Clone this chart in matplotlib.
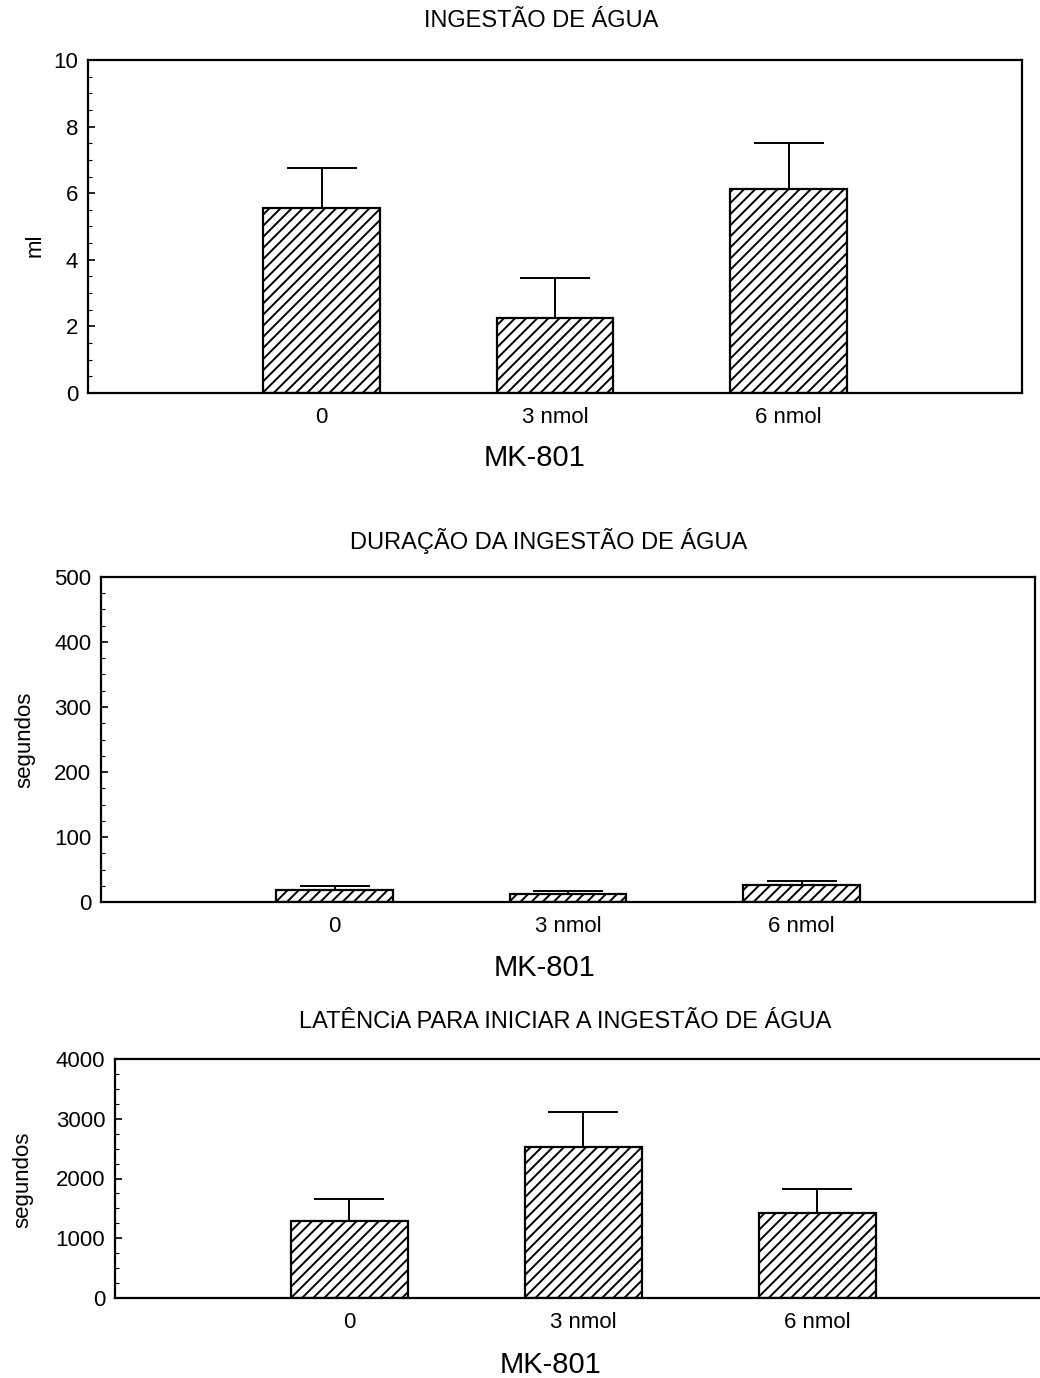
import numpy as np
from matplotlib import pyplot as plt
from matplotlib.ticker import AutoMinorLocator

plt.rcParams['font.family'] = ['Liberation Sans', 'DejaVu Sans']
plt.rcParams['hatch.linewidth'] = 1.4

doses = ['0', '3 nmol', '6 nmol']

# ingestao de agua (ml)
agua_media = [5.55, 2.25, 6.12]
agua_erro = [1.2, 1.2, 1.4]

# duracao da ingestao (segundos)
duracao_media = [19, 12, 26]
duracao_erro = [5, 5, 6]

# latencia (segundos)
latencia_media = [1290, 2530, 1430]
latencia_erro = [360, 580, 395]

W, H = 1040, 1378


def px_axes(fig, left, right, top, bottom):
    return fig.add_axes([left / W, 1 - bottom / H, (right - left) / W, (bottom - top) / H])


def barPanel(ax, means, errs, ymax, step):
    x = np.arange(1, len(means) + 1)
    ax.bar(x, means, width=0.5, color='white', edgecolor='black',
           linewidth=1.6, hatch='///', zorder=2)
    ax.errorbar(x, means, yerr=[np.zeros(len(errs)), errs], fmt='none',
                ecolor='black', elinewidth=1.4, capsize=25, capthick=1.4, zorder=3)
    ax.set_xlim(0, 4)
    ax.set_ylim(0, ymax)
    ax.set_yticks(np.arange(0, ymax + step / 2, step))
    ax.yaxis.set_minor_locator(AutoMinorLocator(4))
    ax.set_xticks(x)
    ax.set_xticklabels(doses)
    ax.tick_params(axis='x', length=0, pad=10, labelsize=16)
    ax.tick_params(axis='y', which='major', direction='in', length=5, width=1.2,
                   pad=7, labelsize=16)
    ax.tick_params(axis='y', which='minor', direction='in', length=3, width=0.8)
    for s in ax.spines.values():
        s.set_linewidth(1.6)


fig = plt.figure(figsize=(W / 100, H / 100), dpi=100)

ax1 = px_axes(fig, 88, 1022, 60, 393)
barPanel(ax1, agua_media, agua_erro, 10, 2)
fig.text(541 / W, 1 - 21 / H, 'INGESTÃO DE ÁGUA', ha='center', va='center', fontsize=17)
fig.text(535 / W, 1 - 458 / H, 'MK-801', ha='center', va='center', fontsize=21)
fig.text(35 / W, 1 - 245 / H, 'ml', ha='center', va='center', rotation=90, fontsize=16)

ax2 = px_axes(fig, 101, 1035, 577, 902)
barPanel(ax2, duracao_media, duracao_erro, 500, 100)
fig.text(549 / W, 1 - 541 / H, 'DURAÇÃO DA INGESTÃO DE ÁGUA', ha='center', va='center', fontsize=17)
fig.text(545 / W, 1 - 968 / H, 'MK-801', ha='center', va='center', fontsize=21)
fig.text(25 / W, 1 - 740 / H, 'segundos', ha='center', va='center', rotation=90, fontsize=16)

ax3 = px_axes(fig, 115, 1051, 1059, 1298)
barPanel(ax3, latencia_media, latencia_erro, 4000, 1000)
fig.text(565 / W, 1 - 1022 / H, 'LATÊNCiA PARA INICIAR A INGESTÃO DE ÁGUA', ha='center', va='center', fontsize=17)
fig.text(551 / W, 1 - 1365 / H, 'MK-801', ha='center', va='center', fontsize=21)
fig.text(23 / W, 1 - 1180 / H, 'segundos', ha='center', va='center', rotation=90, fontsize=16)

fig.savefig('out.png', dpi=100)
